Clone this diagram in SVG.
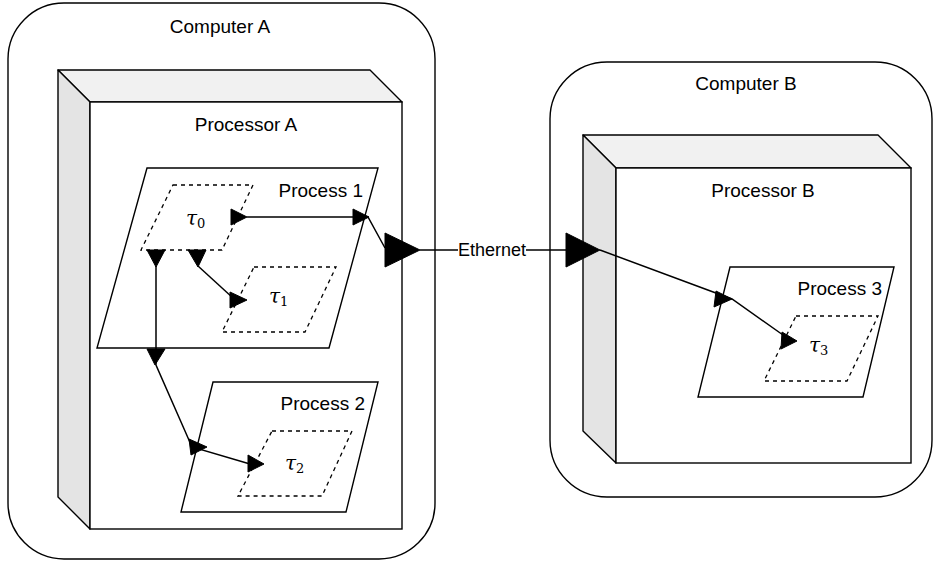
<svg xmlns="http://www.w3.org/2000/svg" width="934" height="562" viewBox="0 0 934 562">
  <style>
    .box { fill: #ffffff; stroke: #000000; stroke-width: 1.4; }
    .side { fill: #e4e4e4; stroke: #000000; stroke-width: 1.4; stroke-linejoin: round; }
    .top { fill: #f1f1f1; stroke: #000000; stroke-width: 1.4; stroke-linejoin: round; }
    .proc { fill: #ffffff; stroke: #000000; stroke-width: 1.4; }
    .task { fill: #ffffff; stroke: #000000; stroke-width: 1.3; stroke-dasharray: 4 4; }
    .lbl { font-family: "Liberation Sans", Arial, sans-serif; font-size: 19px; fill: #000000; }
    .eth { font-family: "Liberation Sans", Arial, sans-serif; font-size: 18px; fill: #000000; }
    .tau { font-family: "DejaVu Serif", "Liberation Serif", serif; font-style: italic; font-size: 20px; fill: #000000; }
    .sub { font-style: normal; font-size: 13px; }
    .wire { fill: none; stroke: #000000; stroke-width: 1.5; }
    .head { fill: #000000; stroke: #000000; stroke-width: 1; stroke-linejoin: miter; }
  </style>

  <!-- Computer A -->
  <g id="computer-a">
    <rect class="box" x="8" y="3" width="427" height="556" rx="56" ry="56"/>
    <text class="lbl" x="220" y="33" text-anchor="middle">Computer A</text>
  </g>

  <!-- Processor A (3D box) -->
  <g id="processor-a">
    <polygon class="top" points="58,70 370,70 402,102 90,102"/>
    <polygon class="side" points="58,70 90,102 90,529 58,497"/>
    <rect class="box" x="90" y="102" width="312" height="427"/>
    <text class="lbl" x="246" y="131" text-anchor="middle">Processor A</text>
  </g>

  <!-- Process 1 -->
  <g id="process-1">
    <polygon class="proc" points="147,168 378,168 329,348 97,348"/>
    <text class="lbl" x="363" y="197" text-anchor="end">Process 1</text>
  </g>

  <g id="task-0">
    <polygon class="task" points="173,185 253,185 222,250 141,250"/>
    <text class="tau" x="186" y="225">τ<tspan class="sub" dy="3">0</tspan></text>
  </g>

  <g id="task-1">
    <polygon class="task" points="254,267 336,267 305,332 222,332"/>
    <text class="tau" x="269" y="303">τ<tspan class="sub" dy="3">1</tspan></text>
  </g>

  <!-- Process 2 -->
  <g id="process-2">
    <polygon class="proc" points="213,382 378,382 346,512 181,512"/>
    <text class="lbl" x="365" y="410" text-anchor="end">Process 2</text>
  </g>

  <g id="task-2">
    <polygon class="task" points="272,431 352,431 322,496 238,496"/>
    <text class="tau" x="285" y="470">τ<tspan class="sub" dy="3">2</tspan></text>
  </g>

  <!-- Computer B -->
  <g id="computer-b">
    <rect class="box" x="550" y="62" width="382" height="435" rx="57" ry="57"/>
    <text class="lbl" x="746" y="90" text-anchor="middle">Computer B</text>
  </g>

  <!-- Processor B (3D box) -->
  <g id="processor-b">
    <polygon class="top" points="583,135 878,135 911,168 616,168"/>
    <polygon class="side" points="583,135 616,168 616,463 583,431"/>
    <rect class="box" x="616" y="168" width="295" height="295"/>
    <text class="lbl" x="763" y="197" text-anchor="middle">Processor B</text>
  </g>

  <!-- Process 3 -->
  <g id="process-3">
    <polygon class="proc" points="730,267 894,267 863,397 698,397"/>
    <text class="lbl" x="882" y="295" text-anchor="end">Process 3</text>
  </g>

  <g id="task-3">
    <polygon class="task" points="796,316 878,316 847,381 764,381"/>
    <text class="tau" x="809" y="352">τ<tspan class="sub" dy="3">3</tspan></text>
  </g>

  <!-- Connectors -->
  <g id="connectors">
    <!-- tau0 -> Process 1 port -> Ethernet -> Process 3 port -> tau3 -->
    <path class="wire" d="M247,217 L368,217 L385,248"/>
    <polygon class="head" points="231,209 247,217 231,225"/>
    <polygon class="head" points="353,209 369,217 353,225"/>
    <polygon class="head" points="385,233 420,250 385,267"/>
    <path class="wire" d="M420,250 L566,250"/>
    <rect x="458" y="240" width="68" height="20" fill="#ffffff"/>
    <text class="eth" x="492" y="256" text-anchor="middle">Ethernet</text>
    <polygon class="head" points="566,233 600,250 566,267"/>
    <path class="wire" d="M600,250 L732,299 L783,335"/>
    <polygon class="head" points="716,291 732,299 714,307"/>
    <polygon class="head" points="782,332 797,341 781,349"/>

    <!-- tau0 -> tau1 -->
    <path class="wire" d="M198,266 L233,298"/>
    <polygon class="head" points="188,250 206,250 198,267"/>
    <polygon class="head" points="230,292 247,300 230,308"/>

    <!-- tau0 -> Process 2 port -> tau2 -->
    <path class="wire" d="M156,266 L156,365 L192,447 L250,464"/>
    <polygon class="head" points="147,250 165,250 156,267"/>
    <polygon class="head" points="147,349 165,349 155,365"/>
    <polygon class="head" points="189,439 207,447 191,455"/>
    <polygon class="head" points="248,455 264,464 248,472"/>
  </g>
</svg>
